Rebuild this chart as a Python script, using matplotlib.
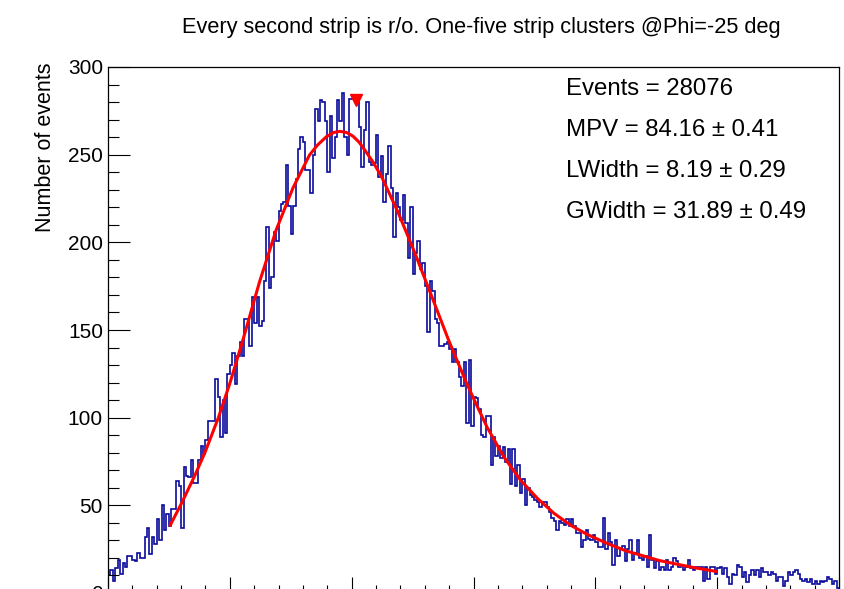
import numpy as np
import matplotlib
matplotlib.use("Agg")
import matplotlib.pyplot as plt
from matplotlib.ticker import MultipleLocator

x_min, x_max = 0, 300

counts = [
    10, 13, 7, 14, 19, 11, 17, 15, 21, 21, 19, 18, 23, 20, 20, 32, 37, 22, 32, 28,
    42, 30, 50, 36, 45, 38, 48, 48, 64, 61, 37, 72, 67, 66, 76, 63, 63, 76, 84, 79,
    87, 98, 98, 98, 122, 112, 89, 110, 91, 125, 130, 137, 119, 135, 143, 135, 156, 156, 141, 169,
    154, 169, 152, 155, 178, 209, 174, 180, 206, 201, 218, 222, 223, 244, 221, 205, 221, 236, 253, 260,
    257, 241, 241, 228, 250, 276, 269, 281, 280, 269, 240, 272, 248, 260, 281, 269, 285, 260, 250, 282,
    282, 283, 282, 266, 243, 264, 280, 246, 244, 245, 261, 237, 249, 223, 239, 255, 231, 203, 228, 220,
    213, 227, 211, 191, 220, 182, 194, 201, 185, 188, 175, 149, 178, 172, 156, 154, 141, 141, 142, 143,
    139, 132, 139, 132, 123, 118, 132, 97, 133, 95, 112, 111, 105, 90, 89, 101, 101, 73, 89, 78,
    84, 77, 83, 75, 82, 62, 82, 61, 73, 57, 65, 50, 60, 56, 55, 53, 52, 49, 52, 52,
    49, 46, 43, 41, 36, 41, 40, 39, 42, 38, 42, 38, 34, 34, 26, 30, 36, 31, 30, 33,
    29, 26, 26, 43, 25, 34, 29, 16, 30, 21, 25, 27, 18, 25, 30, 19, 23, 30, 20, 19,
    21, 15, 33, 19, 14, 18, 13, 15, 13, 19, 13, 15, 20, 18, 15, 16, 13, 15, 19, 14,
    13, 15, 15, 15, 7, 15, 8, 15, 15, 11, 14, 15, 11, 14, 9, 5, 11, 10, 16, 15,
    9, 12, 6, 10, 13, 10, 13, 9, 14, 12, 12, 10, 12, 11, 7, 9, 9, 4, 7, 12,
    10, 12, 13, 11, 8, 7, 8, 6, 8, 5, 7, 5, 7, 6, 7, 9, 8, 5, 7, 3,
]

# Curva do ajuste
fit_x = [25.3, 30.3, 35.8, 39.9, 45.3, 50.1, 55.3, 62.2, 69.0, 75.9, 82.7, 86.0, 89.6,
         92.5, 95.1, 97.8, 100.5, 103.0, 105.5, 108.9, 112.3, 119.2, 126.0, 132.9, 139.7,
         146.6, 150.5, 155.6, 162.5, 169.3, 176.2, 183.0, 189.9, 196.7, 204.0, 212.6,
         226.3, 240.0, 250.0]
fit_y = [38.0, 51.5, 67.5, 80.5, 100.0, 120.0, 144.0, 177.5, 207.0, 231.0, 249.8, 255.5, 260.2,
         262.6, 263.3, 262.7, 260.6, 257.2, 252.4, 245.5, 237.4, 216.6, 193.7, 169.0, 144.5,
         121.5, 109.5, 94.5, 77.5, 64.4, 54.0, 45.5, 38.6, 33.4, 28.8, 24.0,
         18.5, 14.6, 12.2]

marker_x = [101.8]
marker_y = [281]

titulo = "Every second strip is r/o. One-five strip clusters @Phi=-25 deg"
stats = ["Events = 28076", "MPV = 84.16 \u00b1 0.41", "LWidth = 8.19 \u00b1 0.29",
         "GWidth = 31.89 \u00b1 0.49"]

plt.rcParams['font.family'] = ['Liberation Sans', 'DejaVu Sans']

fig = plt.figure(figsize=(8.45, 5.89), dpi=100)
ax = fig.add_axes([108 / 845, -4 / 589, 731 / 845, 526 / 589])

edges = np.linspace(x_min, x_max, len(counts) + 1)
ax.stairs(counts, edges, color='#0a0a9c', linewidth=1.2)
ax.plot(fit_x, fit_y, color='red', linewidth=2.2, solid_capstyle='butt',
        solid_joinstyle='round')
ax.plot(marker_x, marker_y, linestyle='none', marker='v', color='red', markersize=8)

ax.set_xlim(x_min, x_max)
ax.set_ylim(0, 300)
ax.xaxis.set_major_locator(MultipleLocator(50))
ax.xaxis.set_minor_locator(MultipleLocator(10))
ax.yaxis.set_major_locator(MultipleLocator(50))
ax.yaxis.set_minor_locator(MultipleLocator(10))

ax.tick_params(axis='y', which='major', direction='in', length=15.8, width=0.8,
               labelsize=15, pad=3.6, right=False)
ax.tick_params(axis='y', which='minor', direction='in', length=7.9, width=0.8, right=False)
# os rótulos do eixo x ficam fora da imagem na referência
ax.tick_params(axis='x', which='major', direction='in', length=11.2, width=0.8,
               top=False, labelbottom=False)
ax.tick_params(axis='x', which='minor', direction='in', length=5.6, width=0.8, top=False)
for s in ax.spines.values():
    s.set_linewidth(0.9)

fig.text(46 / 845, 1 - 63 / 589, "Number of events", rotation=90, ha='center', va='top',
         fontsize=15.5)
fig.text(481 / 845, 1 - 27 / 589, titulo, ha='center', va='center', fontsize=15.7)

for i, linha in enumerate(stats):
    fig.text(566 / 845, 1 - (89 + 41 * i) / 589, linha, ha='left', va='center', fontsize=17.3)

fig.savefig("out.png", dpi=100)
